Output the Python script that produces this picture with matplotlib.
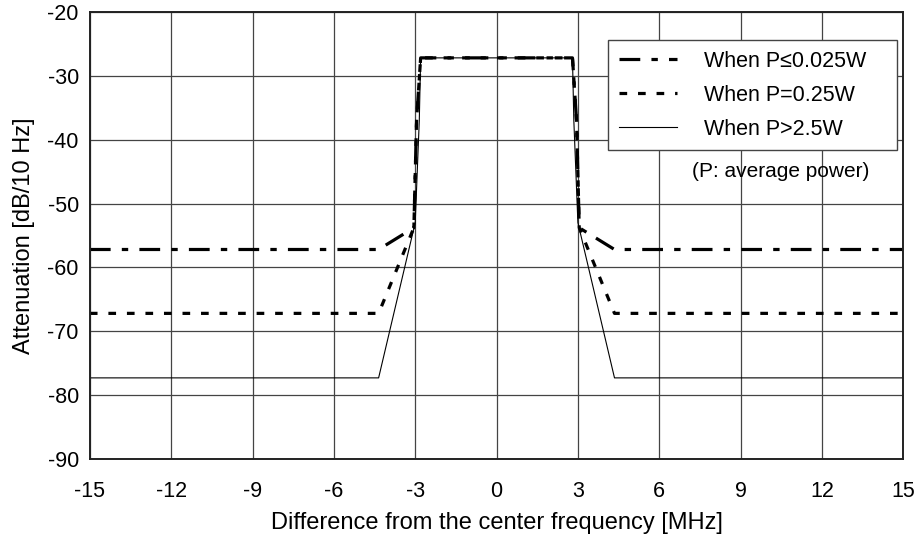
import numpy as np
import matplotlib
matplotlib.use("Agg")
import matplotlib.pyplot as plt

plt.rcParams['font.family'] = ['Liberation Sans', 'DejaVu Sans']
plt.rcParams['axes.unicode_minus'] = False

# Spectrum mask (MHz, dB/10 Hz)
low_x = [-15, -4.35, -3.05, -2.95, -2.8, 2.8, 2.95, 3.05, 4.35, 15]
low_y = [-57.2, -57.2, -53.8, -37.0, -27.2, -27.2, -37.0, -53.8, -57.2, -57.2]

mid_x = [-15, -4.35, -3.05, -2.95, -2.8, 2.8, 2.95, 3.05, 4.35, 15]
mid_y = [-67.2, -67.2, -53.8, -37.0, -27.2, -27.2, -37.0, -53.8, -67.2, -67.2]

high_x = [-15, -4.35, -3.0, -2.85, -2.8, 2.8, 2.85, 3.0, 4.35, 15]
high_y = [-77.3, -77.3, -53.0, -37.0, -27.2, -27.2, -37.0, -53.0, -77.3, -77.3]

labels = ["When P\u22640.025W", "When P=0.25W", "When P>2.5W"]
x_ticks = [-15, -12, -9, -6, -3, 0, 3, 6, 9, 12, 15]
y_ticks = [-90, -80, -70, -60, -50, -40, -30, -20]

fig = plt.figure(figsize=(9.17, 5.4), dpi=100)
ax = fig.add_axes([0.098, 0.15, 0.887, 0.828])

ax.plot(low_x, low_y, color='black', lw=2.3, dashes=(6.5, 3.5, 2, 3.5),
        label=labels[0])
ax.plot(mid_x, mid_y, color='black', lw=2.3, dashes=(2.4, 3.4),
        label=labels[1])
ax.plot(high_x, high_y, color='black', lw=0.8, label=labels[2])

ax.set_xlim(-15, 15)
ax.set_ylim(-90, -20)
ax.set_xticks(x_ticks)
ax.set_yticks(y_ticks)
ax.tick_params(length=0, labelsize=15.5)
ax.tick_params(axis='y', pad=8)
ax.tick_params(axis='x', pad=16)
ax.grid(True, color='#444444', lw=0.9)
ax.set_axisbelow(True)
for s in ax.spines.values():
    s.set_linewidth(1.4)
    s.set_color('#222222')

ax.set_xlabel("Difference from the center frequency [MHz]", fontsize=17, labelpad=7)
ax.set_ylabel("Attenuation [dB/10 Hz]", fontsize=17, labelpad=9)

# legend box stretched to the width of the reference frame
leg = ax.legend(loc='upper left', bbox_to_anchor=(0.637, 0.0, 0.3555, 0.937),
                mode='expand', borderaxespad=0,
                fontsize=15.5, handlelength=2.7, handletextpad=1.25, fancybox=False,
                framealpha=1, edgecolor='#444444', borderpad=0.5,
                labelspacing=0.6)
leg.get_frame().set_linewidth(1.0)

ax.text(0.849, 0.642, "(P: average power)", transform=ax.transAxes,
        ha='center', va='center', fontsize=15)

fig.savefig("out.png", dpi=100)
